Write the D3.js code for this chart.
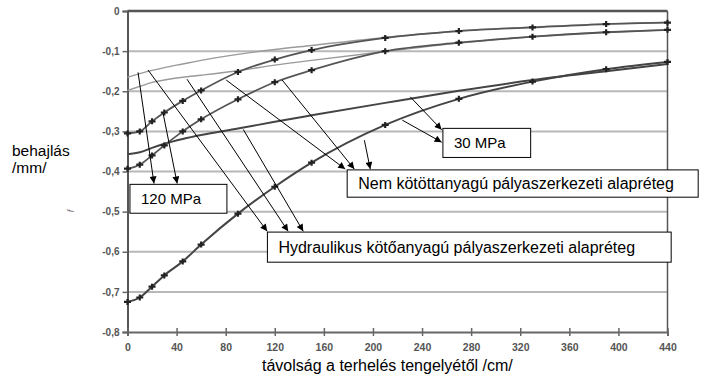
<!DOCTYPE html>
<html><head><meta charset="utf-8">
<script src="https://cdn.jsdelivr.net/npm/d3@7"></script>
<style>
body{margin:0;background:#fff}
svg{display:block;font-family:"Liberation Sans",Arial,sans-serif}
</style>
</head><body><svg id="c" width="703" height="378"></svg>
<script>
// ---- data ----
const xPositions = [0,10,20,30,45,60,90,120,150,210,270,330,390,440];
const curveTopMarked    = [-0.305,-0.300,-0.275,-0.253,-0.224,-0.198,-0.152,-0.121,-0.0975,-0.067,-0.050,-0.041,-0.0325,-0.029];
const curveSecondMarked = [-0.393,-0.383,-0.360,-0.335,-0.300,-0.270,-0.220,-0.1775,-0.1475,-0.100,-0.079,-0.064,-0.053,-0.047];
const curveBottomMarked = [-0.725,-0.714,-0.687,-0.659,-0.624,-0.582,-0.505,-0.438,-0.378,-0.284,-0.219,-0.176,-0.145,-0.127];
const curveSmooth       = [-0.357,-0.352,-0.341,-0.331,-0.319,-0.309,-0.293,-0.276,-0.260,-0.229,-0.199,-0.172,-0.150,-0.132];
const curveLightA       = [-0.165,-0.156,-0.148,-0.141,-0.132,-0.123,-0.108,-0.096,-0.086,-0.066,-0.050,-0.040,-0.032,-0.028];
const curveLightB       = [-0.198,-0.188,-0.178,-0.172,-0.165,-0.160,-0.149,-0.135,-0.123,-0.101,-0.080,-0.064,-0.053,-0.047];
const xTicks = [0,40,80,120,160,200,240,280,320,360,400,440];
const yTicks = [0,-0.1,-0.2,-0.3,-0.4,-0.5,-0.6,-0.7,-0.8];
const yTickLabels = ["0","-0,1","-0,2","-0,3","-0,4","-0,5","-0,6","-0,7","-0,8"];
const xTitle = "távolság a terhelés tengelyétől /cm/";
const yTitle = ["behajlás","/mm/"];
// annotation boxes (data coords: x0,x1,y0,y1) and labels
const boxLabels = ["120 MPa","30 MPa","Nem kötöttanyagú pályaszerkezeti alapréteg","Hydraulikus kötőanyagú pályaszerkezeti alapréteg"];
const boxFont = [15, 15, 16, 16];
const boxX0 = [2, 257, 179, 114];
const boxX1 = [81, 328.5, 465, 443];
const boxY0 = [-0.432, -0.2925, -0.396, -0.551];
const boxY1 = [-0.504, -0.365, -0.464, -0.626];
// arrows (data coords): start -> end
const arrowX0 = [8.6, 29, 16.7, 48.5, 94.3, 80.4, 126, 193, 230.4, 223.9];
const arrowY0 = [-0.153,-0.255,-0.147,-0.170,-0.295,-0.172,-0.172,-0.322,-0.214,-0.272];
const arrowX1 = [21.6, 40.5, 113.8, 130.9, 143.2, 177.4, 184.8, 197.8, 256, 256];
const arrowY1 = [-0.430,-0.430,-0.549,-0.549,-0.549,-0.394,-0.394,-0.394,-0.296,-0.327];

// ---- drawing ----
const svg = d3.select("#c");
const x = d3.scaleLinear().domain([0,440]).range([127.5,667.5]);
const y = d3.scaleLinear().domain([0,-0.8]).range([11,332]);

const defs = svg.append("defs");
defs.append("marker").attr("id","ah").attr("viewBox","0 0 10 10").attr("refX",10).attr("refY",5)
  .attr("markerWidth",9).attr("markerHeight",7).attr("markerUnits","userSpaceOnUse").attr("orient","auto")
  .append("path").attr("d","M0,0L10,5L0,10z").attr("fill","#000");

// grid lines
svg.append("g").selectAll("line").data(yTicks.slice(1,-1)).join("line")
  .attr("x1",x(0)).attr("x2",x(440)).attr("y1",d=>y(d)).attr("y2",d=>y(d))
  .attr("stroke","#b8b8b8").attr("stroke-width",2);
// top zero line
svg.append("line").attr("x1",x(0)).attr("x2",x(440)).attr("y1",y(0)).attr("y2",y(0))
  .attr("stroke","#555").attr("stroke-width",2.5);
// right border
svg.append("line").attr("x1",x(440)).attr("x2",x(440)).attr("y1",y(0)).attr("y2",y(-0.8))
  .attr("stroke","#555").attr("stroke-width",1.5);

// y axis
const yAxis = svg.append("g").attr("transform",`translate(${x(0)},0)`)
  .call(d3.axisLeft(y).tickValues(yTicks).tickFormat((d,i)=>yTickLabels[i]).tickSize(5).tickPadding(3));
yAxis.select(".domain").attr("stroke","#555").attr("stroke-width",2);
yAxis.selectAll(".tick line").attr("stroke","#666").attr("stroke-width",1.5);
yAxis.selectAll(".tick text").attr("fill","#555").attr("font-size",10).attr("font-weight","bold")
  .attr("font-family","Liberation Sans, Arial, sans-serif");

// x axis
const xAxis = svg.append("g").attr("transform",`translate(0,${y(-0.8)})`)
  .call(d3.axisBottom(x).tickValues(xTicks).tickSize(4).tickPadding(8));
xAxis.select(".domain").attr("stroke","#666").attr("stroke-width",2);
xAxis.selectAll(".tick line").attr("y1",-4).attr("stroke","#666").attr("stroke-width",1.5);
xAxis.selectAll(".tick text").attr("fill","#555").attr("font-size",10.5).attr("font-weight","bold")
  .attr("font-family","Liberation Sans, Arial, sans-serif");

// curves
const line = d3.line().x(d=>x(d[0])).y(d=>y(d[1])).curve(d3.curveMonotoneX);
const series = [
  {v:curveLightA, c:"#9a9a9a", w:1.4, m:false},
  {v:curveLightB, c:"#9a9a9a", w:1.4, m:false},
  {v:curveSmooth, c:"#444", w:2, m:false},
  {v:curveSecondMarked, c:"#555", w:1.8, m:true},
  {v:curveTopMarked, c:"#555", w:1.8, m:true},
  {v:curveBottomMarked, c:"#444", w:2, m:true}
];
series.forEach(s=>{
  const pts = xPositions.map((xv,i)=>[xv,s.v[i]]);
  svg.append("path").datum(pts).attr("d",line).attr("fill","none")
    .attr("stroke",s.c).attr("stroke-width",s.w);
  if(s.m){
    svg.append("g").selectAll("path").data(pts).join("path")
      .attr("transform",d=>`translate(${x(d[0])},${y(d[1])})`)
      .attr("d","M-3.5,0H3.5M0,-3V3").attr("stroke","#222").attr("stroke-width",2.2);
  }
});

// arrows
svg.append("g").selectAll("line").data(arrowX0).join("line")
  .attr("x1",(d,i)=>x(d)).attr("y1",(d,i)=>y(arrowY0[i]))
  .attr("x2",(d,i)=>x(arrowX1[i])).attr("y2",(d,i)=>y(arrowY1[i]))
  .attr("stroke","#000").attr("stroke-width",1).attr("marker-end","url(#ah)");

// boxes
const bg = svg.append("g").selectAll("g").data(boxLabels).join("g");
bg.append("rect").attr("x",(d,i)=>x(boxX0[i])).attr("y",(d,i)=>y(boxY0[i]))
  .attr("width",(d,i)=>x(boxX1[i])-x(boxX0[i])).attr("height",(d,i)=>y(boxY1[i])-y(boxY0[i]))
  .attr("fill","#fff").attr("stroke","#000").attr("stroke-width",1);
bg.append("text").attr("x",(d,i)=>x(boxX0[i])+11).attr("y",(d,i)=>(y(boxY0[i])+y(boxY1[i]))/2+5.5)
  .attr("font-size",(d,i)=>boxFont[i]).attr("fill","#000").text(d=>d);

// titles
svg.append("text").attr("x",262).attr("y",371)
  .attr("font-size",16).attr("fill","#000").text(xTitle);
svg.append("g").selectAll("text").data(yTitle).join("text")
  .attr("x",12).attr("y",(d,i)=>156+i*17).attr("font-size",15.5).attr("fill","#000").text(d=>d);
svg.append("text").attr("transform","translate(74,211) rotate(-90)").attr("text-anchor","middle")
  .attr("font-size",9).attr("fill","#777").attr("font-style","italic").text("f");
</script></body></html>
